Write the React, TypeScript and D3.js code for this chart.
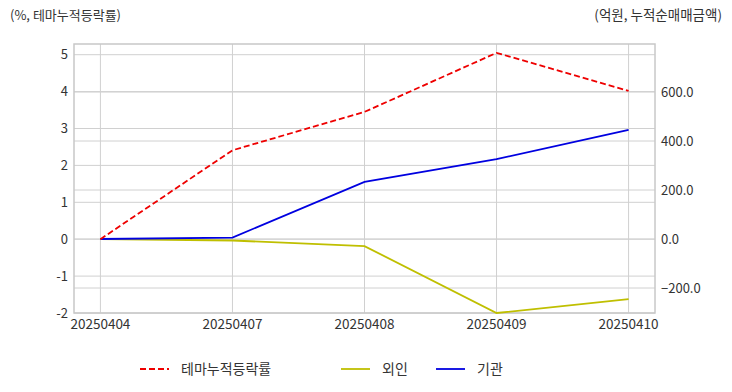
import React from 'react';
import * as d3 from 'd3';

const dates = ['20250404', '20250407', '20250408', '20250409', '20250410'];
const themeReturn = [0, 2.41, 3.45, 5.05, 4.02];
const foreign = [0, -6, -29, -302, -245];
const institution = [0, 6, 233, 326, 445];

const leftTicks = [-2, -1, 0, 1, 2, 3, 4, 5];
const rightTicks = [-200, 0, 200, 400, 600];

const W = 732;
const H = 392;
const plot = { left: 74, right: 655, top: 44, bottom: 313 };
const font = '"Noto Sans CJK KR", "Noto Sans", sans-serif';
const textColor = '#333';
const gridColor = '#d0d0d0';

export default function App() {
  const x = d3.scalePoint<string>()
    .domain(dates)
    .range([plot.left, plot.right])
    .padding(0.2);

  const yL = d3.scaleLinear().domain([-2, 5.29]).range([plot.bottom, plot.top]);
  const yR = d3.scaleLinear().domain([-302, 796]).range([plot.bottom, plot.top]);

  const lineL = d3.line<number>()
    .x((_, i) => x(dates[i]) as number)
    .y(d => yL(d));
  const lineR = d3.line<number>()
    .x((_, i) => x(dates[i]) as number)
    .y(d => yR(d));

  const legend = [
    { label: '테마누적등락률', color: '#ee0000', dash: '6,3', x: 140 },
    { label: '외인', color: '#bfbf00', dash: null, x: 341 },
    { label: '기관', color: '#0000e0', dash: null, x: 436 },
  ];

  return (
    <div style={{ position: 'fixed', left: 0, top: 0, width: W, height: H, background: '#fff' }}>
      <svg width={W} height={H} style={{ display: 'block', fontFamily: font }}>
        <rect width={W} height={H} fill="#fff" />

        {/* gridlines */}
        {leftTicks.map(t => (
          <line key={'gl' + t} x1={plot.left} x2={plot.right} y1={yL(t)} y2={yL(t)} stroke={gridColor} strokeWidth={1} />
        ))}
        {rightTicks.map(t => (
          <line key={'gr' + t} x1={plot.left} x2={plot.right} y1={yR(t)} y2={yR(t)} stroke={gridColor} strokeWidth={1} />
        ))}
        {dates.map(d => (
          <line key={'gx' + d} x1={x(d)} x2={x(d)} y1={plot.top} y2={plot.bottom} stroke={gridColor} strokeWidth={1} />
        ))}

        <rect x={plot.left} y={plot.top} width={plot.right - plot.left} height={plot.bottom - plot.top}
          fill="none" stroke="#c8c8c8" strokeWidth={1.5} />

        {/* series */}
        <path d={lineR(foreign) as string} fill="none" stroke="#bfbf00" strokeWidth={1.8} />
        <path d={lineR(institution) as string} fill="none" stroke="#0000e0" strokeWidth={1.8} />
        <path d={lineL(themeReturn) as string} fill="none" stroke="#ee0000" strokeWidth={1.8} strokeDasharray="6,3" />

        {/* left axis labels */}
        {leftTicks.map(t => (
          <text key={'tl' + t} x={68} y={yL(t)} dy="0.35em" textAnchor="end" fontSize={13} fill={textColor}>{t}</text>
        ))}
        {/* right axis labels */}
        {rightTicks.map(t => (
          <text key={'tr' + t} x={661} y={yR(t)} dy="0.35em" textAnchor="start" fontSize={13} fill={textColor}>{d3.format('.1f')(t)}</text>
        ))}
        {/* x labels */}
        {dates.map(d => (
          <text key={'tx' + d} x={x(d)} y={329} textAnchor="middle" fontSize={13.5} fill={textColor}>{d}</text>
        ))}

        <text x={10} y={20} fontSize={13} fill={textColor}>(%, 테마누적등락률)</text>
        <text x={722} y={20} textAnchor="end" fontSize={13.5} fill={textColor}>(억원, 누적순매매금액)</text>

        {/* legend */}
        {legend.map(l => (
          <g key={l.label} transform={`translate(${l.x},369)`}>
            <line x1={0} x2={29} y1={0} y2={0} stroke={l.color} strokeWidth={1.8} strokeDasharray={l.dash ?? undefined} />
            <text x={41} y={0} dy="0.35em" fontSize={14} fill={textColor}>{l.label}</text>
          </g>
        ))}
      </svg>
    </div>
  );
}
